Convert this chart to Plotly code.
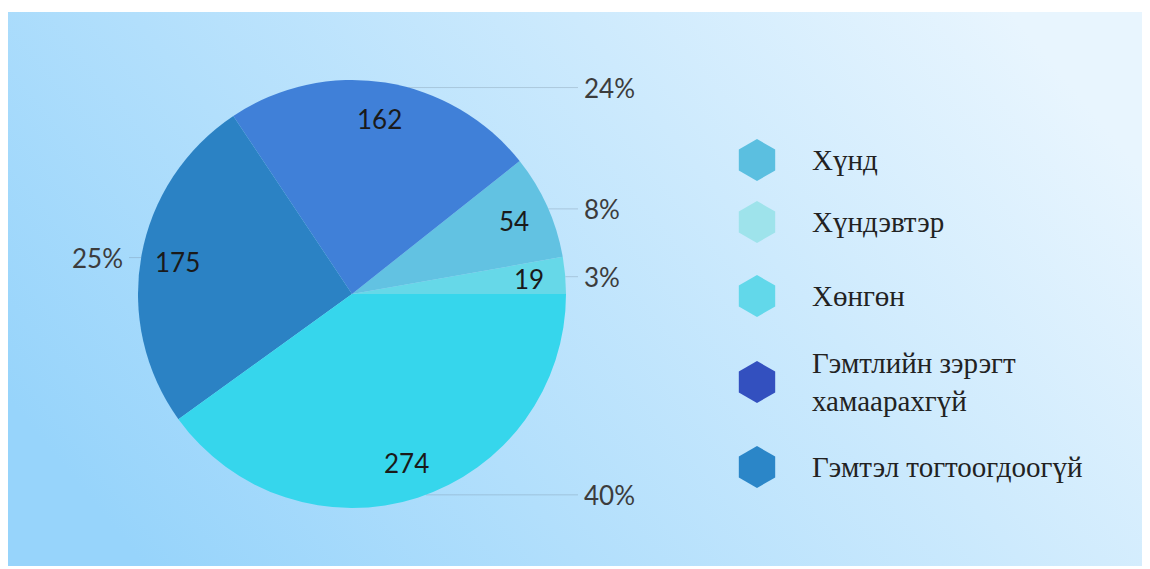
import math
import base64
import plotly.graph_objects as go

# ---------------- data ----------------
slice_names = ["Хүндэвтэр", "Хүнд", "Гэмтлийн зэрэгт хамаарахгүй", "Гэмтэл тогтоогдоогүй", "Хөнгөн"]
slice_values = [19, 54, 162, 175, 274]
pct_labels = ["3%", "8%", "24%", "25%", "40%"]
slice_colors = ["#66d8e8", "#62c2e2", "#4080d8", "#2b82c4", "#36d6ec"]

legend_names = ["Хүнд", "Хүндэвтэр", "Хөнгөн", "Гэмтлийн зэрэгт<br>хамаарахгүй", "Гэмтэл тогтоогдоогүй"]
legend_colors = ["#5bbfe0", "#9ee3eb", "#62d8ea", "#3350bf", "#2b86c8"]

# ---------------- layout constants (page pixels) ----------------
PAGE_W, PAGE_H = 1150, 569
BODY = 8                      # default body margin of the html page
W, H = PAGE_W - BODY, PAGE_H - BODY
CX, CY, R = 352, 294, 214
LBL_CY, LBL_R = 295, 210
RIGHT_LINE_END, LEFT_LINE_END = 578, 129
RIGHT_TEXT_X, LEFT_TEXT_X = 582, 125
VAL_R = 0.83
LEG_MARK_X, LEG_TEXT_X = 757, 810
LEG_Y = [160, 222, 296, 382, 467]

fig = go.Figure()

total = sum(slice_values)
first_deg = 360 * slice_values[0] / total

# pie
fig.add_trace(go.Pie(
    labels=slice_names, values=slice_values, sort=False,
    direction="counterclockwise", rotation=90 - first_deg,
    marker=dict(colors=slice_colors, line=dict(width=0)),
    textinfo="none",
    domain=dict(x=[(CX - R - BODY) / W, (CX + R - BODY) / W],
                y=[1 - (CY + R - BODY) / H, 1 - (CY - R - BODY) / H]),
    showlegend=False, hoverinfo="label+value+percent",
))

annotations = []
cum = 0
for v, lab in zip(slice_values, pct_labels):
    theta = 2 * math.pi * (cum + v / 2) / total
    cum += v
    # value label inside the slice
    annotations.append(dict(
        x=CX + VAL_R * R * math.cos(theta), y=CY - VAL_R * R * math.sin(theta),
        xref="x", yref="y", text=str(v), showarrow=False,
        xanchor="center", yanchor="middle",
        font=dict(family="Lato", size=26, color="#1a1a1a"),
    ))
    # percent label with leader line
    ly = LBL_CY - LBL_R * math.sin(theta)
    dy = max(-R, min(R, ly - CY))
    right = math.cos(theta) >= 0
    ex = CX + (1 if right else -1) * math.sqrt(R * R - dy * dy)
    lx = RIGHT_LINE_END if right else LEFT_LINE_END
    fig.add_trace(go.Scatter(
        x=[ex, lx], y=[ly, ly], mode="lines",
        line=dict(color="rgba(110,130,150,0.3)", width=1),
        showlegend=False, hoverinfo="skip",
    ))
    annotations.append(dict(
        x=RIGHT_TEXT_X if right else LEFT_TEXT_X, y=ly, xref="x", yref="y",
        text=lab, showarrow=False,
        xanchor="left" if right else "right", yanchor="middle",
        font=dict(family="Lato", size=26, color="#3c3c3c"),
    ))

# custom legend (hexagon markers + text)
fig.add_trace(go.Scatter(
    x=[LEG_MARK_X] * len(legend_names), y=LEG_Y, mode="markers",
    marker=dict(symbol="hexagon", size=42, color=legend_colors, line=dict(width=0)),
    showlegend=False, hoverinfo="skip",
))
for name, ly in zip(legend_names, LEG_Y):
    annotations.append(dict(
        x=LEG_TEXT_X, y=ly, xref="x", yref="y", text=name, showarrow=False,
        xanchor="left", yanchor="middle", align="left",
        font=dict(family="Liberation Serif", size=29, color="#222222"),
    ))

# gradient background
BG_W, BG_H = 1140, 554
svg = (
    f'<svg xmlns="http://www.w3.org/2000/svg" width="{BG_W}" height="{BG_H}" preserveAspectRatio="none">'
    '<defs><linearGradient id="g" x1="0" y1="0.7" x2="1" y2="0.3">'
    '<stop offset="0" stop-color="#97d4fb"/><stop offset="1" stop-color="#e8f5fe"/>'
    f'</linearGradient></defs><rect width="{BG_W}" height="{BG_H}" fill="url(#g)"/></svg>'
)
src = "data:image/svg+xml;base64," + base64.b64encode(svg.encode()).decode()

fig.update_layout(
    width=W, height=H,
    margin=dict(l=0, r=0, t=0, b=0),
    paper_bgcolor="white", plot_bgcolor="rgba(0,0,0,0)",
    xaxis=dict(range=[BODY, PAGE_W], visible=False, fixedrange=True),
    yaxis=dict(range=[PAGE_H, BODY], visible=False, fixedrange=True),
    annotations=annotations,
    images=[dict(source=src, xref="paper", yref="paper", x=0, y=1 - (12 - BODY) / H,
                 sizex=BG_W / W, sizey=BG_H / H, xanchor="left", yanchor="top",
                 sizing="stretch", layer="below")],
)

fig.write_html("out.html")
